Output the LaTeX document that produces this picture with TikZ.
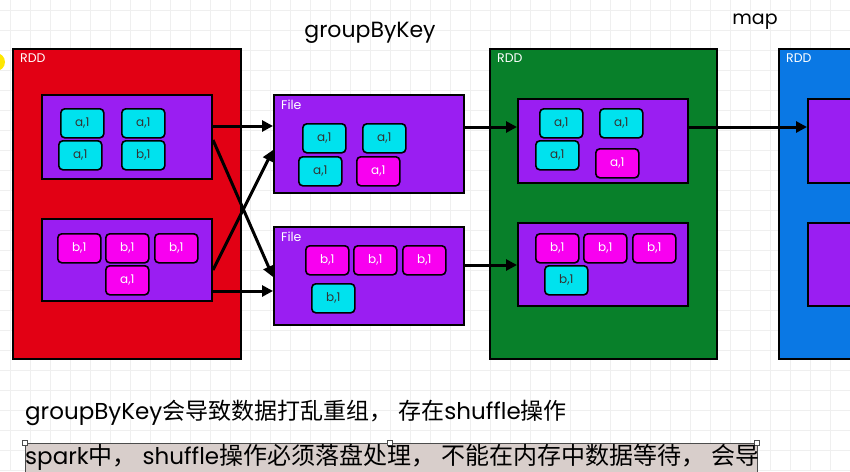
\documentclass[tikz,border=0pt]{standalone}
\usepackage{fontspec}
\setmainfont{Poppins}
\newfontfamily\cjk{Noto Sans CJK SC}
\usetikzlibrary{arrows.meta}
\definecolor{rddred}{HTML}{E20014}
\definecolor{rddgreen}{HTML}{08802A}
\definecolor{rddblue}{HTML}{0A78E4}
\definecolor{partpurple}{HTML}{9A1EF2}
\definecolor{kvcyan}{HTML}{00E2EE}
\definecolor{kvmag}{HTML}{F800F0}
\definecolor{gridgray}{HTML}{EFEFEF}
\definecolor{selbox}{HTML}{D8CECB}
\newcommand{\cj}[1]{{\cjk\fontsize{23}{26}\selectfont #1}}
\newcommand{\cm}{\cj{，}\hspace{6pt}}
\newcommand{\cjb}[1]{{\cjk\fontsize{24}{27}\selectfont #1}}
\newcommand{\cmb}{\cjb{，}\hspace{6pt}}
\tikzset{
  rdd/.style={draw=black, line width=2pt, anchor=north west, inner sep=0pt},
  part/.style={draw=black, fill=partpurple, line width=2pt, anchor=north west, inner sep=0pt},
  kv/.style={draw=black, line width=1.6pt, rounded corners=4pt, anchor=north west, inner sep=0pt,
     minimum width=43pt, minimum height=29pt, font=\fontsize{12}{14}\selectfont},
  kvc/.style={kv, fill=kvcyan, text=black!80},
  kvm/.style={kv, fill=kvmag, text=white},
  lbl/.style={anchor=north west, text=white, font=\fontsize{12.5}{14}\selectfont, inner sep=0pt},
  flow/.style={-{Triangle[length=11pt,width=11pt]}, line width=3pt, black},
}
\begin{document}
\begin{tikzpicture}[x=1pt,y=-1pt]
\useasboundingbox (0,0) rectangle (850,471);
\fill[white] (0,0) rectangle (850,471);
\begin{scope}
\clip (0,0) rectangle (850,471);
\foreach \g in {10,30,...,850} \draw[gridgray, line width=0.6pt] (\g,0) -- (\g,471);
\foreach \g in {10,30,...,470} \draw[gridgray, line width=0.6pt] (0,\g) -- (850,\g);
\fill[yellow!90!orange] (-4,62) circle (9);
\end{scope}

% titles
\node[anchor=center, font=\fontsize{22}{24}\selectfont] (tgbk) at (370,33) {groupByKey};
\node[anchor=center, font=\fontsize{19}{22}\selectfont] (tmap) at (755,22) {map};

% red RDD
\node[rdd, fill=rddred, minimum width=228pt, minimum height=310pt] (r1) at (12,48) {};
\node[lbl] (r1l) at (20,54) {RDD};
\node[part, minimum width=170pt, minimum height=84pt] (p11) at (41,94) {};
\node[kvc] (k1) at (60,108) {a,1};
\node[kvc] (k2) at (121,108) {a,1};
\node[kvc] (k3) at (58,140) {a,1};
\node[kvc] (k4) at (121,140) {b,1};
\node[part, minimum width=170pt, minimum height=82pt] (p12) at (41,218) {};
\node[kvm] (k5) at (57,233) {b,1};
\node[kvm] (k6) at (105,233) {b,1};
\node[kvm] (k7) at (154,233) {b,1};
\node[kvm] (k8) at (105,265) {a,1};

% Files
\node[part, minimum width=190pt, minimum height=98pt] (f1) at (273,94) {};
\node[lbl] (f1l) at (281,100) {File};
\node[kvc] (k9) at (302,123) {a,1};
\node[kvc] (k10) at (362,123) {a,1};
\node[kvc] (k11) at (298,156) {a,1};
\node[kvm] (k12) at (356,156) {a,1};
\node[part, minimum width=190pt, minimum height=98pt] (f2) at (273,226) {};
\node[lbl] (f2l) at (281,232) {File};
\node[kvm] (k13) at (305,245) {b,1};
\node[kvm] (k14) at (353,245) {b,1};
\node[kvm] (k15) at (402,245) {b,1};
\node[kvc] (k16) at (311,283) {b,1};

% green RDD
\node[rdd, fill=rddgreen, minimum width=227pt, minimum height=310pt] (r2) at (489,48) {};
\node[lbl] (r2l) at (497,54) {RDD};
\node[part, minimum width=170pt, minimum height=84pt] (p21) at (517,98) {};
\node[kvc] (k17) at (539,108) {a,1};
\node[kvc] (k18) at (599,108) {a,1};
\node[kvc] (k19) at (535,140) {a,1};
\node[kvm] (k20) at (595,148) {a,1};
\node[part, minimum width=170pt, minimum height=83pt] (p22) at (517,222) {};
\node[kvm] (k21) at (535,233) {b,1};
\node[kvm] (k22) at (583,233) {b,1};
\node[kvm] (k23) at (632,233) {b,1};
\node[kvc] (k24) at (544,265) {b,1};

% blue RDD (cut at right edge)
\begin{scope}
\clip (0,0) rectangle (850,471);
\node[rdd, fill=rddblue, minimum width=100pt, minimum height=310pt] (r3) at (778,48) {};
\node[lbl] (r3l) at (786,54) {RDD};
\node[part, minimum width=80pt, minimum height=84pt] (p31) at (807,98) {};
\node[part, minimum width=80pt, minimum height=83pt] (p32) at (807,222) {};
\end{scope}

% connectors
\draw[flow] (p11.east |- 0,126) -- (f1.west |- 0,126);
\draw[flow] (p11.east |- 0,140) -- (f2.west |- 0,277);
\draw[flow] (p12.east |- 0,270) -- (f1.west |- 0,150);
\draw[flow] (p12.east |- 0,291) -- (f2.west |- 0,291);
\draw[flow] (f1.east |- 0,127) -- (p21.west |- 0,127);
\draw[flow] (f2.east |- 0,265) -- (p22.west |- 0,265);
\draw[flow] (p21.east |- 0,127) -- (p31.west |- 0,127);

% bottom text
\node[anchor=base west, inner sep=0pt, font=\fontsize{23}{26}\selectfont] (t1) at (25,419)
  {groupByKey\cj{会导致数据打乱重组}\cm\cj{存在}shuffle\cj{操作}};
\fill[selbox] (25,443) rectangle (757,475);
\draw[black!70, line width=0.5pt] (25,475) -- (25,443) -- (757,443) -- (757,475);
\foreach \hx in {25,390,757} \draw[black!70, fill=white, line width=0.5pt] (\hx-2.5,440.5) rectangle (\hx+2.5,445.5);
\node[anchor=base west, inner sep=0pt, font=\fontsize{23}{26}\selectfont] (t2) at (25,464)
  {spark\cjb{中}\cmb shuffle\cjb{操作必须落盘处理}\cmb\cjb{不能在内存中数据等待}\cmb\cjb{会导}};
\end{tikzpicture}
\end{document}
